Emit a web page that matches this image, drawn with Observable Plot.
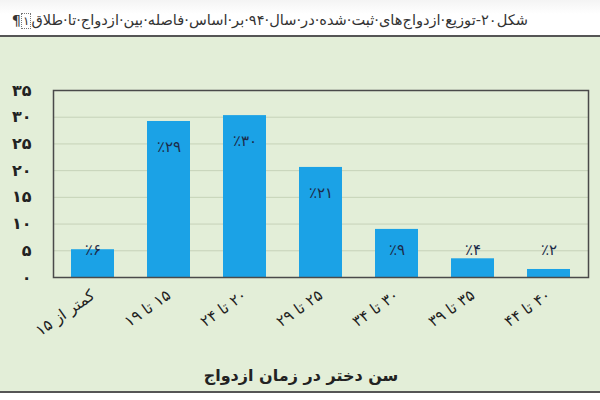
<!DOCTYPE html>
<html>
<head>
<meta charset="utf-8">
<script src="https://cdn.jsdelivr.net/npm/d3@7"></script>
<script src="https://cdn.jsdelivr.net/npm/@observablehq/plot@0.6"></script>
<style>
  html, body { margin: 0; padding: 0; background: #ffffff; }
  #wrap { width: 600px; height: 400px; overflow: hidden; }
  #title {
    height: 37px; box-sizing: border-box; border-bottom: 2px solid #555;
    direction: rtl; text-align: right; padding-right: 72px; padding-top: 11px;
    font-family: "DejaVu Sans", sans-serif; font-size: 14.6px; color: #333; white-space: nowrap;
    background: linear-gradient(#f4f4f4, #ffffff 40%);
  }
  #title .box { border: 1px dotted #777; padding: 0 1px; font-size: 12px; }
  #chart { height: 354px; background: #e3eed8; border-bottom: 2px solid #555; }
  #chart svg { display: block; }
</style>
</head>
<body>
<div id="wrap">
  <div id="title"></div>
  <div id="chart"></div>
</div>
<script>
const titleText = "شکل۲۰-توزیع·ازدواج‌های·ثبت·شده·در·سال·۹۴·بر·اساس·فاصله·بین·ازدواج·تا·طلاق";
const titleNote = "۱";
const categories = ["کمتر از ۱۵", "۱۵ تا ۱۹", "۲۰ تا ۲۴", "۲۵ تا ۲۹", "۳۰ تا ۳۴", "۳۵ تا ۳۹", "۴۰ تا ۴۴"];
const values = [5.2, 29.2, 30.3, 20.6, 9.0, 3.5, 1.5];
const valueLabels = ["٪۶", "٪۲۹", "٪۳۰", "٪۲۱", "٪۹", "٪۴", "٪۲"];
const yTicks = [0, 5, 10, 15, 20, 25, 30, 35];
const yTickLabels = ["۰", "۵", "۱۰", "۱۵", "۲۰", "۲۵", "۳۰", "۳۵"];
const xTitle = "سن دختر در زمان ازدواج";

const t = document.getElementById("title");
t.append(titleText);
const box = document.createElement("span");
box.className = "box";
box.textContent = titleNote;
t.append(box);
t.append("¶");

const data = categories.map((c, i) => ({category: c, value: values[i], label: valueLabels[i]}));

const chart = Plot.plot({
  width: 600,
  height: 352,
  marginTop: 53,
  marginBottom: 112,
  marginLeft: 53,
  marginRight: 12,
  style: {background: "transparent", fontFamily: "DejaVu Sans, sans-serif", color: "#222"},
  x: {domain: categories, paddingInner: 0.44, paddingOuter: 0.22},
  y: {domain: [0, 35]},
  marks: [
    Plot.gridY(yTicks.filter(v => v > 0 && v < 35), {stroke: "#c6d2b8", strokeOpacity: 1, strokeWidth: 1}),
    Plot.barY(data, {x: "category", y: "value", fill: "#1ba2e6"}),
    Plot.frame({stroke: "#4a4a4a", strokeWidth: 1.5}),
    Plot.text(data, {x: "category", y: d => Math.max(d.value, 10), dy: 26, text: "label", fill: "#1d2b4a", fontSize: 15}),
    Plot.axisY({ticks: yTicks, tickFormat: d => yTickLabels[yTicks.indexOf(d)], tickSize: 0, tickPadding: 22, fontSize: 16, fontWeight: "bold", label: null}),
    Plot.axisX({tickSize: 0, tickRotate: -35, tickPadding: 16, tickFormat: d => "\u2067" + d + "\u2069", fontSize: 15.5, label: null}),
    Plot.text([xTitle], {frameAnchor: "bottom", dx: -20, dy: 103, text: d => d, fontSize: 16, fontWeight: "bold", fill: "#222"})
  ]
});
document.getElementById("chart").append(chart);
</script>
</body>
</html>
